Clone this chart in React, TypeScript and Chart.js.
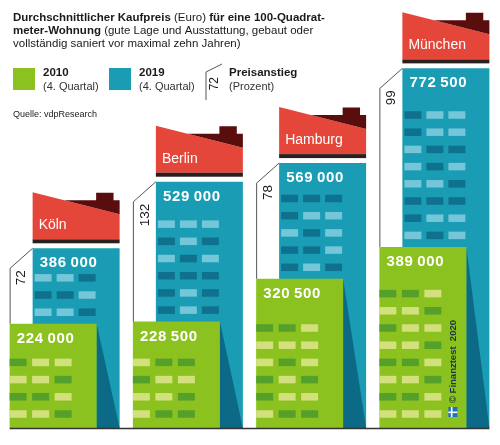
import React, { useEffect, useRef } from "react";
import { Chart, registerables } from "chart.js";

Chart.register(...registerables);

// ---- data ----
const cities = ["Köln", "Berlin", "Hamburg", "München"];
const price2010 = [224000, 228500, 320500, 389000];
const price2019 = [386000, 529000, 569000, 772500];
const increasePct = [72, 132, 78, 99];
const seriesLabels = ["2010", "2019"];
const seriesSub = ["(4. Quartal)", "(4. Quartal)"];
const yMax = 900000;

// ---- decoration (window shading, top row first; one string per window row) ----
const tealPatterns = [
  ["LLD", "DDL", "LLD"],
  ["LLL", "DLD", "LDL", "DDD", "DLD", "DLD"],
  ["DDD", "DLL", "LDL", "DDL", "DLD"],
  ["DLL", "DLL", "LDD", "LDL", "LLD", "DDD", "DLL", "LDL"],
];
const greenPatterns = [
  ["DLL", "LLD", "DDL", "LLD"],
  ["LDD", "DLL", "LLD", "LDD"],
  ["DDL", "LLL", "LDL", "DLD", "DLL", "LDD"],
  ["DDL", "LLD", "DLL", "LLD", "DDL", "LLD", "DDL", "LLL"],
];

const GREEN = "#8cc21f";
const TEAL = "#1a9cb4";
const TEAL_SHADOW = "#0c6a86";
const TEAL_WIN_D = "#10718e";
const TEAL_WIN_L = "#74c6d8";
const GREEN_WIN_D = "#55a02a";
const GREEN_WIN_L = "#d2e07e";
const RED = "#e4463a";
const MAROON = "#5a0d0d";
const STRIP = "#2b1e1e";
const INK = "#1a1a1a";
const FONT = "'Liberation Sans', Arial, Helvetica, sans-serif";

const fmt = (n: number) => String(n).replace(/\B(?=(\d{3})+(?!\d))/g, "\u2009");

function drawRich(ctx: CanvasRenderingContext2D, parts: [string, boolean][], x: number, y: number, size: number) {
  let cx = x;
  for (const [t, b] of parts) {
    ctx.font = `${b ? "bold " : ""}${size}px ${FONT}`;
    ctx.fillText(t, cx, y);
    cx += ctx.measureText(t).width;
  }
}

function rotText(ctx: CanvasRenderingContext2D, text: string, x: number, y: number, font: string, color: string) {
  ctx.save();
  ctx.translate(x, y);
  ctx.rotate(-Math.PI / 2);
  ctx.font = font;
  ctx.fillStyle = color;
  ctx.textAlign = "right";
  ctx.textBaseline = "middle";
  ctx.fillText(text, 0, 0);
  ctx.restore();
}

const decoPlugin = {
  id: "deco",
  beforeDraw(chart: any) {
    const ctx = chart.ctx;
    ctx.save();
    ctx.fillStyle = "#ffffff";
    ctx.fillRect(0, 0, chart.width, chart.height);
    ctx.restore();
  },
  afterDatasetDraw(chart: any, args: any) {
    const ctx: CanvasRenderingContext2D = chart.ctx;
    const base = chart.scales.y.getPixelForValue(0);
    const pitch = 17.2;
    const wh = 7.5;
    ctx.save();
    if (args.index === 1) {
      const gMeta = chart.getDatasetMeta(0);
      args.meta.data.forEach((bar: any, i: number) => {
        const p = bar.getProps(["x", "y", "width"], true);
        const L = p.x - p.width / 2;
        const R = p.x + p.width / 2;
        const g = gMeta.data[i].getProps(["x", "y", "width"], true);
        const gR = g.x + g.width / 2;
        const gT = g.y;
        ctx.fillStyle = TEAL_SHADOW;
        ctx.beginPath();
        ctx.moveTo(gR, gT);
        ctx.lineTo(R, base);
        ctx.lineTo(gR, base);
        ctx.closePath();
        ctx.fill();
        const pat = tealPatterns[i];
        const n = pat.length;
        pat.forEach((s, r) => {
          const c = gT - 11.5 - (n - 1 - r) * pitch;
          for (let k = 0; k < 3; k++) {
            ctx.fillStyle = s[k] === "D" ? TEAL_WIN_D : TEAL_WIN_L;
            ctx.fillRect(L + 2 + k * 22, c - wh / 2, 17, wh);
          }
        });
      });
    } else if (args.index === 0) {
      args.meta.data.forEach((bar: any, i: number) => {
        const p = bar.getProps(["x", "y", "width"], true);
        const L = p.x - p.width / 2;
        const pat = greenPatterns[i];
        const n = pat.length;
        pat.forEach((s, r) => {
          const c = base - 14 - (n - 1 - r) * pitch;
          for (let k = 0; k < 3; k++) {
            ctx.fillStyle = s[k] === "D" ? GREEN_WIN_D : GREEN_WIN_L;
            ctx.fillRect(L + k * 22.5, c - wh / 2, 17, wh);
          }
        });
      });
    }
    ctx.restore();
  },
  afterDatasetsDraw(chart: any) {
    const ctx: CanvasRenderingContext2D = chart.ctx;
    const base = chart.scales.y.getPixelForValue(0);
    const gMeta = chart.getDatasetMeta(0);
    const tMeta = chart.getDatasetMeta(1);
    ctx.save();
    let firstL = 0;
    let lastR = 0;
    cities.forEach((city, i) => {
      const t = tMeta.data[i].getProps(["x", "y", "width"], true);
      const g = gMeta.data[i].getProps(["x", "y", "width"], true);
      const L = t.x - t.width / 2;
      const R = t.x + t.width / 2;
      const T = t.y;
      const gL = g.x - g.width / 2;
      const gT = g.y;
      if (i === 0) firstL = gL;
      lastR = R;
      const W = R - L;
      // roof
      const top = T - 56;
      ctx.fillStyle = RED;
      ctx.beginPath();
      ctx.moveTo(L, top);
      ctx.lineTo(R, T - 34);
      ctx.lineTo(R, T - 9);
      ctx.lineTo(L, T - 9);
      ctx.closePath();
      ctx.fill();
      const slope = 22 / W;
      const mx = 8 / slope;
      ctx.fillStyle = MAROON;
      ctx.beginPath();
      ctx.moveTo(L + mx, T - 48);
      ctx.lineTo(L + W * 0.73, T - 48);
      ctx.lineTo(L + W * 0.73, T - 55.5);
      ctx.lineTo(L + W * 0.93, T - 55.5);
      ctx.lineTo(L + W * 0.93, T - 48);
      ctx.lineTo(R, T - 48);
      ctx.lineTo(R, T - 34);
      ctx.closePath();
      ctx.fill();
      ctx.fillStyle = STRIP;
      ctx.fillRect(L, T - 9, W, 4);
      ctx.fillStyle = "#ffffff";
      ctx.font = `14px ${FONT}`;
      ctx.textAlign = "left";
      ctx.textBaseline = "middle";
      ctx.fillText(city, L + 6, T - 23);
      // values
      ctx.font = `bold 15px ${FONT}`;
      (ctx as any).letterSpacing = "0.7px";
      ctx.fillText(fmt(price2019[i]), L + 7, T + 15);
      ctx.fillText(fmt(price2010[i]), gL + 7, gT + 15);
      (ctx as any).letterSpacing = "0px";
      // price increase outline
      ctx.strokeStyle = "#555555";
      ctx.lineWidth = 1;
      ctx.beginPath();
      ctx.moveTo(gL + 0.5, gT);
      ctx.lineTo(gL + 0.5, T + 20);
      ctx.lineTo(L, T);
      ctx.stroke();
      rotText(ctx, String(increasePct[i]), gL + 12, T + 22, `13.5px ${FONT}`, INK);
    });
    // baseline
    ctx.strokeStyle = "#333333";
    ctx.lineWidth = 1.5;
    ctx.beginPath();
    ctx.moveTo(firstL, base + 0.5);
    ctx.lineTo(lastR, base + 0.5);
    ctx.stroke();

    // credit
    const mg = gMeta.data[3].getProps(["x", "y", "width"], true);
    const mR = mg.x + mg.width / 2;
    rotText(ctx, "\u00A9 Finanztest  2020", mR - 13, 320, `bold 9.5px ${FONT}`, "#1d3346");
    ctx.textAlign = "left";
    ctx.fillStyle = "#1f6fc4";
    ctx.fillRect(mR - 18, 407, 9, 10);
    ctx.fillStyle = "#ffffff";
    ctx.fillRect(mR - 18, 411.5, 9, 1.6);
    ctx.fillRect(mR - 15.5, 407, 1.6, 10);

    // title
    ctx.fillStyle = INK;
    ctx.textAlign = "left";
    ctx.textBaseline = "middle";
    drawRich(ctx, [["Durchschnittlicher Kaufpreis ", true], ["(Euro) ", false], ["für eine 100-Quadrat-", true]], 13, 18, 11.5);
    drawRich(ctx, [["meter-Wohnung ", true], ["(gute Lage und Ausstattung, gebaut oder", false]], 13, 31, 11.5);
    drawRich(ctx, [["vollständig saniert vor maximal zehn Jahren)", false]], 13, 44, 11.5);

    // legend
    const lx = [13, 109];
    const lc = [GREEN, TEAL];
    lx.forEach((x, k) => {
      ctx.fillStyle = lc[k];
      ctx.fillRect(x, 68, 22, 22);
      ctx.fillStyle = INK;
      ctx.font = `bold 11.5px ${FONT}`;
      ctx.fillText(seriesLabels[k], x + 30, 73);
      ctx.font = `11px ${FONT}`;
      ctx.fillStyle = "#333333";
      ctx.fillText(seriesSub[k], x + 30, 87);
    });
    ctx.strokeStyle = "#555555";
    ctx.lineWidth = 1;
    ctx.beginPath();
    ctx.moveTo(206, 100);
    ctx.lineTo(206, 72);
    ctx.lineTo(222, 64);
    ctx.stroke();
    rotText(ctx, "72", 215, 77, `12px ${FONT}`, INK);
    ctx.fillStyle = INK;
    ctx.textAlign = "left";
    ctx.font = `bold 11.5px ${FONT}`;
    ctx.fillText("Preisanstieg", 229, 73);
    ctx.font = `11px ${FONT}`;
    ctx.fillStyle = "#333333";
    ctx.fillText("(Prozent)", 229, 87);
    ctx.fillStyle = INK;
    ctx.font = `9px ${FONT}`;
    ctx.fillText("Quelle: vdpResearch", 13, 115);
    ctx.restore();
  },
};

export default function App() {
  const ref = useRef<HTMLCanvasElement>(null);
  useEffect(() => {
    if (!ref.current) return;
    const chart = new Chart(ref.current, {
      type: "bar",
      data: {
        labels: cities,
        datasets: [
          { label: seriesLabels[0], data: price2010, backgroundColor: GREEN, borderWidth: 0, barPercentage: 87 / 23, categoryPercentage: 46 / 123.25 },
          { label: seriesLabels[1], data: price2019, backgroundColor: TEAL, borderWidth: 0, barPercentage: 87 / 23, categoryPercentage: 46 / 123.25 },
        ],
      },
      options: {
        responsive: false,
        animation: false,
        devicePixelRatio: 1,
        layout: { padding: { left: 3, right: 4, top: 9, bottom: 17 } },
        plugins: { legend: { display: false }, tooltip: { enabled: false } },
        scales: {
          x: { display: false },
          y: { display: false, min: 0, max: yMax },
        },
      },
      plugins: [decoPlugin],
    } as any);
    return () => chart.destroy();
  }, []);
  return (
    <div style={{ position: "absolute", left: 0, top: 0, width: 500, height: 445, background: "#fff" }}>
      <canvas ref={ref} width={500} height={445} style={{ display: "block", width: 500, height: 445 }} />
    </div>
  );
}
